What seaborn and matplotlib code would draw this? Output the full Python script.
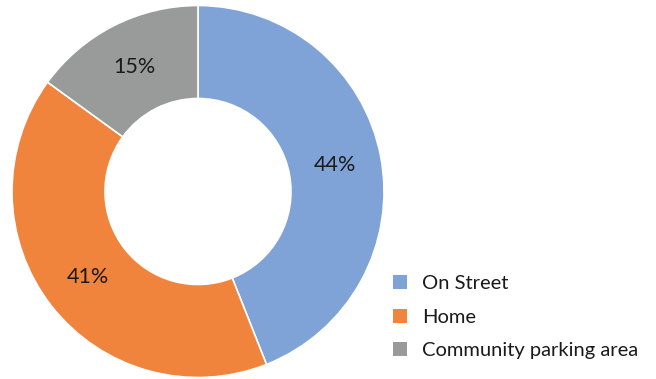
import matplotlib
matplotlib.use("Agg")
import matplotlib.pyplot as plt
import seaborn as sns
from matplotlib.patches import Patch

# ----------------------------- DATA -----------------------------
categories = ["On Street", "Home", "Community parking area"]
shares = [44, 41, 15]
colors = ["#7FA3D6", "#F0843C", "#999B9A"]

# ----------------------------- PLOT -----------------------------
sns.set_theme(style="white")
plt.rcParams["font.family"] = ["Lato", "DejaVu Sans"]

fig = plt.figure(figsize=(6.56, 3.79), dpi=100)
ax = fig.add_axes([12 / 656, 1.5 / 379, 372 / 656, 372 / 379])

wedges, texts, autotexts = ax.pie(
    shares,
    colors=colors,
    startangle=90,
    counterclock=False,
    radius=1.0,
    autopct="%d%%",
    pctdistance=0.75,
    wedgeprops=dict(width=0.5, edgecolor="white", linewidth=1.2),
    textprops=dict(fontsize=15.5, color="#1a1a1a"),
)
ax.set_xlim(-1, 1)
ax.set_ylim(-1, 1)
ax.set_aspect("equal")
ax.axis("off")

handles = [Patch(facecolor=c, edgecolor="none") for c in colors]
fig.legend(
    handles, categories,
    loc="lower left",
    bbox_to_anchor=(375 / 656, 2 / 379),
    frameon=False,
    fontsize=14.5,
    handlelength=0.7,
    handleheight=0.7,
    handletextpad=0.75,
    labelspacing=0.8,
    labelcolor="#1a1a1a",
)

fig.savefig("out.png", dpi=100)
